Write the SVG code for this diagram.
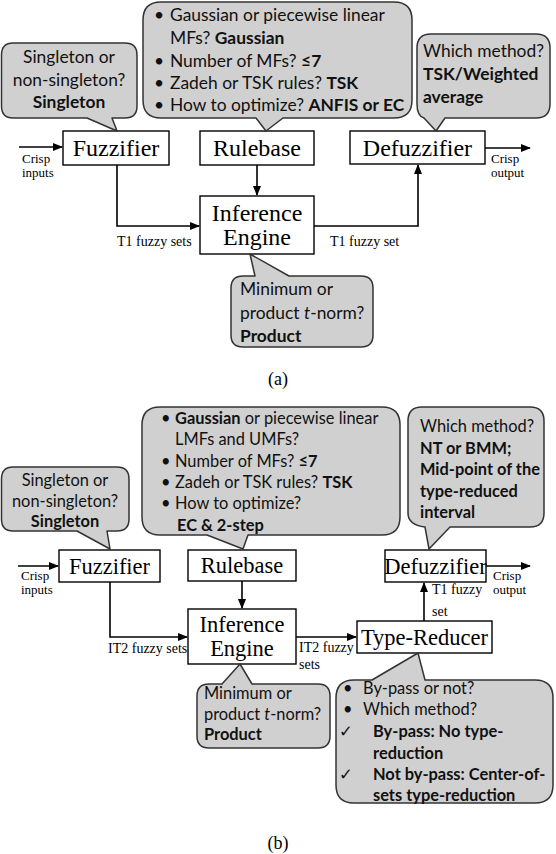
<svg xmlns="http://www.w3.org/2000/svg" width="556" height="854" viewBox="0 0 556 854">
<style>
.box{fill:#fff;stroke:#000;stroke-width:1.4}
.call{fill:#d0d0d0;stroke:#333;stroke-width:1.5;stroke-linejoin:round}
.ser{font-family:"Liberation Serif","Times New Roman",serif;fill:#000}
.bl{font-size:24px;text-anchor:middle}
.bl2{font-size:22.5px;text-anchor:middle}
.lab{font-size:14px}
.lab2{font-size:13px}
.ct{font-family:Lato,"Noto Sans","DejaVu Sans",sans-serif;fill:#111;font-size:17.4px}
.ct2{font-family:Lato,"Noto Sans","DejaVu Sans",sans-serif;fill:#111;font-size:16.4px}
.b{font-weight:bold}
.mid{text-anchor:middle}
.con{fill:none;stroke:#000;stroke-width:1.6}
</style>
<defs>
<marker id="ah" markerUnits="userSpaceOnUse" markerWidth="10" markerHeight="8" refX="9" refY="4" orient="auto">
<path d="M0,0 L10,4 L0,8 z" fill="#000"/>
</marker>
</defs>

<!-- ===== (a) ===== -->
<g id="a-connectors">
<line class="con" x1="19" y1="147" x2="62" y2="147" marker-end="url(#ah)"/>
<line class="con" x1="257" y1="165" x2="257" y2="195" marker-end="url(#ah)"/>
<path class="con" d="M117,165 V226 H199" marker-end="url(#ah)"/>
<path class="con" d="M314,226 H418 V165" marker-end="url(#ah)"/>
<line class="con" x1="485" y1="148" x2="530" y2="148" marker-end="url(#ah)"/>
<text class="ser lab2" x="22" y="163">Crisp</text>
<text class="ser lab2" x="22" y="177">inputs</text>
<text class="ser lab2" x="491" y="163">Crisp</text>
<text class="ser lab2" x="491" y="177">output</text>
<text class="ser lab" x="117" y="246">T1 fuzzy sets</text>
<text class="ser lab" x="330" y="246">T1 fuzzy set</text>
</g>

<g id="a-fuzzifier">
<rect class="box" x="63" y="131" width="106" height="34"/>
<text class="ser bl" x="116" y="156">Fuzzifier</text>
</g>
<g id="a-rulebase">
<rect class="box" x="200" y="131" width="114" height="34"/>
<text class="ser bl" x="257" y="156">Rulebase</text>
</g>
<g id="a-defuzzifier">
<rect class="box" x="350" y="131" width="135" height="33"/>
<text class="ser bl" x="417.5" y="156">Defuzzifier</text>
</g>
<g id="a-inference">
<rect class="box" x="200" y="196" width="114" height="58"/>
<text class="ser bl" x="257" y="221">Inference</text>
<text class="ser bl" x="257" y="245">Engine</text>
</g>

<g id="a-callout-fuzzifier">
<path class="call" d="M13,43 H125 Q137,43 137,55 V106 Q137,118 125,118 H112 L117,131 L87,118 H13 Q1.5,118 1.5,106 V55 Q1.5,43 13,43 Z"/>
<text class="ct mid" x="69" y="63">Singleton or</text>
<text class="ct mid" x="69" y="86">non-singleton?</text>
<text class="ct mid b" x="69" y="108">Singleton</text>
</g>
<g id="a-callout-rulebase">
<path class="call" d="M161,2 H394 Q412,2 412,20 V100 Q412,118 394,118 H283 L266,131 L256,118 H161 Q143,118 143,100 V20 Q143,2 161,2 Z"/>
<text class="ct" x="154" y="21">•</text>
<text class="ct" x="170" y="21">Gaussian or piecewise linear</text>
<text class="ct" x="170" y="44">MFs? <tspan class="b">Gaussian</tspan></text>
<text class="ct" x="154" y="67">•</text>
<text class="ct" x="170" y="67">Number of MFs? <tspan class="b">≤7</tspan></text>
<text class="ct" x="154" y="89">•</text>
<text class="ct" x="170" y="89">Zadeh or TSK rules? <tspan class="b">TSK</tspan></text>
<text class="ct" x="154" y="111">•</text>
<text class="ct" x="170" y="111">How to optimize?  <tspan class="b">ANFIS or EC</tspan></text>
</g>
<g id="a-callout-defuzzifier">
<path class="call" d="M431,34 H536 Q550,34 550,48 V104 Q550,118 536,118 H445 L436,131 L424,118 Q417,116 417,104 V48 Q417,34 431,34 Z"/>
<text class="ct" x="423" y="57">Which method?</text>
<text class="ct b" x="423" y="80">TSK/Weighted</text>
<text class="ct b" x="423" y="103">average</text>
</g>
<g id="a-callout-inference">
<path class="call" d="M243,276 H255 L250,254 L289,276 H361 Q373,276 373,288 V335 Q373,347 361,347 H243 Q231,347 231,335 V288 Q231,276 243,276 Z"/>
<text class="ct" x="240" y="295">Minimum or</text>
<text class="ct" x="240" y="319">product <tspan font-style="italic">t</tspan>-norm?</text>
<text class="ct b" x="240" y="342">Product</text>
</g>
<text class="ser mid" x="278" y="385" font-size="18">(a)</text>

<!-- ===== (b) ===== -->
<g id="b-connectors">
<line class="con" x1="18" y1="566" x2="58" y2="566" marker-end="url(#ah)"/>
<line class="con" x1="242" y1="581" x2="242" y2="608" marker-end="url(#ah)"/>
<path class="con" d="M110,582 V637 H187" marker-end="url(#ah)"/>
<line class="con" x1="296" y1="637" x2="356" y2="637" marker-end="url(#ah)"/>
<line class="con" x1="424" y1="621" x2="424" y2="583" marker-end="url(#ah)"/>
<line class="con" x1="486" y1="566" x2="530" y2="566" marker-end="url(#ah)"/>
<text class="ser lab2" x="21" y="580">Crisp</text>
<text class="ser lab2" x="21" y="594">inputs</text>
<text class="ser lab2" x="493" y="580">Crisp</text>
<text class="ser lab2" x="493" y="594">output</text>
<text class="ser lab" x="108" y="653">IT2 fuzzy sets</text>
<text class="ser lab" x="299" y="652">IT2 fuzzy</text>
<text class="ser lab" x="299" y="669">sets</text>
<text class="ser lab" x="432" y="594">T1 fuzzy</text>
<text class="ser lab" x="432" y="616">set</text>
</g>

<g id="b-fuzzifier">
<rect class="box" x="59" y="550" width="101" height="32"/>
<text class="ser bl2" x="109.5" y="574">Fuzzifier</text>
</g>
<g id="b-rulebase">
<rect class="box" x="188" y="550" width="108" height="31"/>
<text class="ser bl2" x="242" y="573">Rulebase</text>
</g>
<g id="b-defuzzifier">
<rect class="box" x="385" y="550" width="101" height="32"/>
<text class="ser bl2" x="435.5" y="574">Defuzzifier</text>
</g>
<g id="b-inference">
<rect class="box" x="188" y="609" width="108" height="55"/>
<text class="ser bl2" x="242" y="632">Inference</text>
<text class="ser bl2" x="242" y="656">Engine</text>
</g>
<g id="b-typereducer">
<rect class="box" x="357" y="621" width="135" height="32"/>
<text class="ser bl2" x="424.5" y="645">Type-Reducer</text>
</g>

<g id="b-callout-fuzzifier">
<path class="call" d="M13,467 H117 Q129,467 129,479 V519 Q129,531 117,531 H107 L110,549 L77,531 H13 Q1.5,531 1.5,519 V479 Q1.5,467 13,467 Z"/>
<text class="ct2 mid" x="65" y="486">Singleton or</text>
<text class="ct2 mid" x="65" y="507">non-singleton?</text>
<text class="ct2 mid b" x="65" y="527">Singleton</text>
</g>
<g id="b-callout-rulebase">
<path class="call" d="M160,407 H382 Q400,407 400,425 V517 Q400,535 382,535 H248 L243,549 L207,535 H160 Q142,535 142,517 V425 Q142,407 160,407 Z"/>
<text class="ct2" x="161" y="424">•</text>
<text class="ct2" x="175" y="424"><tspan class="b">Gaussian</tspan> or piecewise linear</text>
<text class="ct2" x="175" y="445">LMFs and UMFs?</text>
<text class="ct2" x="161" y="467">•</text>
<text class="ct2" x="175" y="467">Number of MFs? <tspan class="b">≤7</tspan></text>
<text class="ct2" x="161" y="488">•</text>
<text class="ct2" x="175" y="488">Zadeh or TSK rules? <tspan class="b">TSK</tspan></text>
<text class="ct2" x="161" y="509">•</text>
<text class="ct2" x="175" y="509">How to optimize?</text>
<text class="ct2 b" x="177" y="531">EC &amp; 2-step</text>
</g>
<g id="b-callout-defuzzifier">
<path class="call" d="M422,407 H530 Q544,407 544,421 V513 Q544,527 530,527 H450 L429,549 L425,527 Q408,525 408,513 V421 Q408,407 422,407 Z"/>
<text class="ct2" x="420" y="432">Which method?</text>
<text class="ct2 b" x="420" y="454">NT or BMM;</text>
<text class="ct2 b" x="420" y="475">Mid-point of the</text>
<text class="ct2 b" x="420" y="497">type-reduced</text>
<text class="ct2 b" x="420" y="518">interval</text>
</g>
<g id="b-callout-inference">
<path class="call" d="M209,684 H222 L240,664 L252,684 H318 Q330,684 330,696 V736 Q330,748 318,748 H209 Q197,748 197,736 V696 Q197,684 209,684 Z"/>
<text class="ct2" x="204" y="699">Minimum or</text>
<text class="ct2" x="204" y="720">product <tspan font-style="italic">t</tspan>-norm?</text>
<text class="ct2 b" x="204" y="740">Product</text>
</g>
<g id="b-callout-typereducer">
<path class="call" d="M354,680 H372 L418,653 L425,680 H535 Q553,680 553,698 V785 Q553,803 535,803 H354 Q336,803 336,785 V698 Q336,680 354,680 Z"/>
<text class="ct2" x="343" y="694">•</text>
<text class="ct2" x="363" y="694">By-pass or not?</text>
<text class="ct2" x="343" y="715">•</text>
<text class="ct2" x="363" y="715">Which method?</text>
<text class="ct2" x="339" y="737">✓</text>
<text class="ct2 b" x="373" y="737">By-pass: No type-</text>
<text class="ct2 b" x="373" y="759">reduction</text>
<text class="ct2" x="339" y="780">✓</text>
<text class="ct2 b" x="373" y="780">Not by-pass: Center-of-</text>
<text class="ct2 b" x="373" y="801">sets type-reduction</text>
</g>
<text class="ser mid" x="278" y="849" font-size="18">(b)</text>
</svg>
